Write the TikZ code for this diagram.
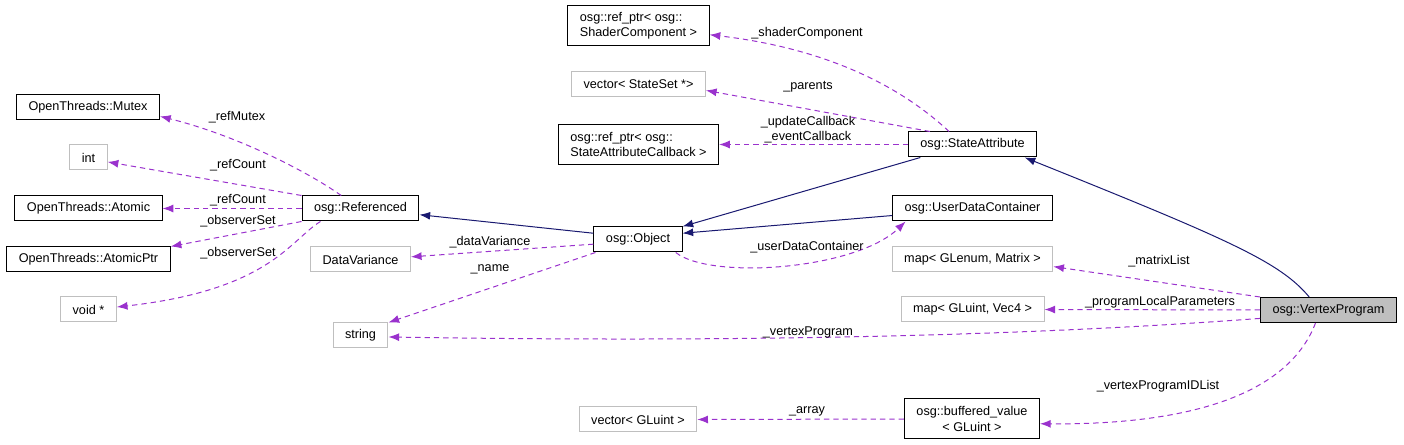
\documentclass[tikz,border=0pt]{standalone}
\usepackage{fontspec}
\setmainfont{Liberation Sans}
\usepackage{tikz}
\usetikzlibrary{
	arrows.meta,
	}
\definecolor{memberpurple}{HTML}{9A32CD}
\definecolor{basenavy}{HTML}{191970}
\definecolor{undocgray}{HTML}{BFBFBF}
\begin{document}
\begin{tikzpicture}[x=0.75pt,y=-0.75pt,
	font=\fontsize{9.5}{11.5}\selectfont,
	cls/.style={draw=black,line width=0.75pt,inner xsep=9pt,inner ysep=0pt,minimum height=18.75pt},
	ext/.style={cls,draw=undocgray},
	twoline/.style={minimum height=30pt,align=left},
	member/.style={memberpurple,line width=0.75pt,dash pattern=on 4pt off 3pt,-{Latex[length=8pt,width=6pt]}},
	inherit/.style={basenavy,line width=0.75pt,-{Latex[length=8pt,width=6pt]}},
	lbl/.style={inner sep=0pt}]
\useasboundingbox (0,0) rectangle (1404,445);
% boxes
\node[cls] (mutex) at (88,107.5) {OpenThreads::Mutex};
\node[ext] (intbox) at (88.5,157.5) {int};
\node[cls] (atomic) at (88.5,208.5) {OpenThreads::Atomic};
\node[cls] (atomicptr) at (88.5,259.5) {OpenThreads::AtomicPtr};
\node[ext] (voidp) at (88.5,309.5) {void *};
\node[cls] (referenced) at (360.5,208.5) {osg::Referenced};
\node[ext] (datavar) at (360.5,259.5) {DataVariance};
\node[ext] (string) at (360.5,335.5) {string};
\node[cls,twoline] (shader) at (638.5,26) {osg::ref\_ptr< osg::\\ShaderComponent >};
\node[ext] (parents) at (638.5,84.5) {vector< StateSet *>};
\node[cls,twoline] (callback) at (638.5,144.5) {osg::ref\_ptr< osg::\\StateAttributeCallback >};
\node[cls] (object) at (638,239.5) {osg::Object};
\node[ext] (gluint) at (638,419.5) {vector< GLuint >};
\node[cls] (stateattr) at (972.5,144.5) {osg::StateAttribute};
\node[cls] (udc) at (972.5,208.5) {osg::UserDataContainer};
\node[ext] (glenum) at (972.5,259.5) {map< GLenum, Matrix >};
\node[ext] (vec4) at (972.5,309.5) {map< GLuint, Vec4 >};
\node[cls,twoline,align=center] (buffered) at (972,419) {osg::buffered\_value\\< GLuint >};
\node[cls,fill=undocgray] (vertexprog) at (1328.5,310) {osg::VertexProgram};
% inheritance
\draw[inherit] (object.172) -- (referenced.-6);
\draw[inherit] (stateattr.194) -- (object.north east);
\draw[inherit] (udc.185) -- (object.8);
\draw[inherit] (vertexprog.146) .. controls (1280,262) and (1230,240) .. (stateattr.-14);
% members of osg::Referenced
\draw[member] (referenced.146) .. controls (305,170) and (235,135) .. (mutex.-7);
\draw[member] (referenced.north west) -- (intbox.-13);
\draw[member] (referenced.west) -- (atomic.east);
\draw[member] (referenced.south west) -- (atomicptr.north east);
\draw[member] (referenced.198) .. controls (290,240) and (270,290) .. (voidp.5);
\node[lbl] (lrefmutex) at (237,117) {\_refMutex};
\node[lbl] (lrefcounta) at (238,165) {\_refCount};
\node[lbl] (lrefcountb) at (238,200) {\_refCount};
\node[lbl] (lobserversa) at (238,221) {\_observerSet};
\node[lbl] (lobserversb) at (238,253) {\_observerSet};
% members of osg::Object
\draw[member] (object.186) -- (datavar.3);
\draw[member] (object.197) -- (string.north east);
\draw[member] (object.-19) .. controls (710,280) and (855,270) .. (udc.191);
\node[lbl] (ldatavar) at (490,242) {\_dataVariance};
\node[lbl] (lname) at (490,269) {\_name};
\node[lbl] (ludc) at (807,247) {\_userDataContainer};
% members of osg::StateAttribute
\draw[member] (stateattr.151) .. controls (910,95) and (840,50) .. (shader.-7);
\draw[member] (stateattr.163) -- (parents.-5);
\draw[member] (stateattr.west) -- (callback.east);
\node[lbl] (lshader) at (807,33) {\_shaderComponent};
\node[lbl] (lparents) at (808,87) {\_parents};
\node[lbl,align=center] (lcallback) at (808,130) {\_updateCallback\\\_eventCallback};
% members of osg::VertexProgram
\draw[member] (vertexprog.north west) -- (glenum.-5);
\draw[member] (vertexprog.west) -- (vec4.east);
\draw[member] (vertexprog.187) .. controls (1000,338) and (700,342) .. (string.-3);
\draw[member] (vertexprog.225) .. controls (1290,390) and (1200,425) .. (buffered.-4);
\draw[member] (buffered.west) -- (gluint.east);
\node[lbl] (lmatrix) at (1159,261) {\_matrixList};
\node[lbl] (lparams) at (1160,302) {\_programLocalParameters};
\node[lbl] (lvertex) at (808,332) {\_vertexProgram};
\node[lbl] (lidlist) at (1158,386) {\_vertexProgramIDList};
\node[lbl] (larray) at (807,411) {\_array};
\end{tikzpicture}
\end{document}
